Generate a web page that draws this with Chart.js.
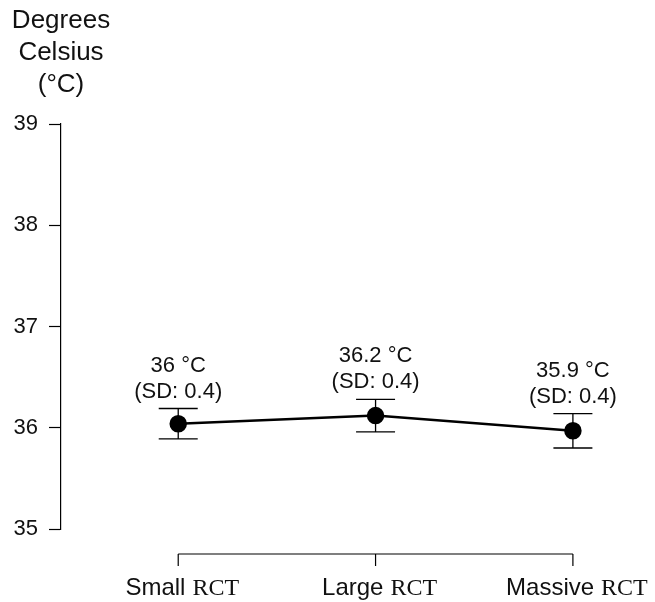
<!DOCTYPE html>
<html><head><meta charset="utf-8">
<script src="https://cdn.jsdelivr.net/npm/chart.js@4/dist/chart.umd.min.js"></script>
<style>html,body{margin:0;padding:0;background:#fff}#wrap{width:655px;height:602px}</style>
</head><body><div id="wrap"><canvas id="c" width="655" height="602"></canvas></div>
<script>
const categories = ["Small", "Large", "Massive"];
const categorySuffix = "RCT";
const meanValues = [36.04, 36.12, 35.97];
const upperValues = [36.19, 36.28, 36.14];
const lowerValues = [35.89, 35.96, 35.80];
const meanLabels = ["36 °C", "36.2 °C", "35.9 °C"];
const sdLabels = ["(SD: 0.4)", "(SD: 0.4)", "(SD: 0.4)"];
const yTicks = [35, 36, 37, 38, 39];
const yTitle = ["Degrees", "Celsius", "(°C)"];

const SANS = '"Liberation Sans", Arial, sans-serif';
const SERIF = '"Liberation Serif", "Times New Roman", serif';

const overlay = {
  id: 'overlay',
  beforeDatasetsDraw(chart) {
    const ctx = chart.ctx, xs = chart.scales.x, ys = chart.scales.y;
    ctx.save();
    ctx.strokeStyle = '#000';
    ctx.lineWidth = 1.3;
    meanValues.forEach((v, i) => {
      const px = xs.getPixelForValue(i + 1);
      const yt = ys.getPixelForValue(upperValues[i]);
      const yb = ys.getPixelForValue(lowerValues[i]);
      ctx.beginPath();
      ctx.moveTo(px, yt); ctx.lineTo(px, yb);
      ctx.moveTo(px - 19.5, yt); ctx.lineTo(px + 19.5, yt);
      ctx.moveTo(px - 19.5, yb); ctx.lineTo(px + 19.5, yb);
      ctx.stroke();
    });
    ctx.restore();
  },
  afterDraw(chart) {
    const ctx = chart.ctx, xs = chart.scales.x, ys = chart.scales.y;
    ctx.save();
    ctx.fillStyle = '#111';
    ctx.textAlign = 'center';
    ctx.textBaseline = 'middle';
    // y title
    ctx.font = '26px ' + SANS;
    const tx = ys.right;
    yTitle.forEach((t, i) => ctx.fillText(t, tx, 21 + i * 32));
    // point labels
    ctx.font = '22px ' + SANS;
    meanValues.forEach((v, i) => {
      const px = xs.getPixelForValue(i + 1);
      const yt = ys.getPixelForValue(upperValues[i]);
      ctx.fillText(meanLabels[i], px, yt - 43);
      ctx.fillText(sdLabels[i], px, yt - 17);
    });
    // x axis
    const ay = chart.chartArea.bottom + 25;
    const x1 = xs.getPixelForValue(1), x3 = xs.getPixelForValue(categories.length);
    ctx.strokeStyle = '#000';
    ctx.lineWidth = 1.2;
    ctx.beginPath();
    ctx.moveTo(x1, ay); ctx.lineTo(x3, ay);
    categories.forEach((c, i) => {
      const px = xs.getPixelForValue(i + 1);
      ctx.moveTo(px, ay); ctx.lineTo(px, ay + 12);
    });
    ctx.stroke();
    ctx.textAlign = 'left';
    ctx.textBaseline = 'alphabetic';
    categories.forEach((c, i) => {
      const px = xs.getPixelForValue(i + 1);
      ctx.font = '24px ' + SANS;
      const w1 = ctx.measureText(c).width;
      ctx.font = '24px ' + SERIF;
      const w2 = ctx.measureText(categorySuffix).width;
      const gap = 7;
      const start = px + 4 - (w1 + gap + w2) / 2;
      ctx.font = '24px ' + SANS;
      ctx.fillText(c, start, ay + 41);
      ctx.font = '24px ' + SERIF;
      ctx.fillText(categorySuffix, start + w1 + gap, ay + 41);
    });
    ctx.restore();
  }
};

new Chart(document.getElementById('c'), {
  type: 'line',
  data: {
    datasets: [{
      data: meanValues.map((v, i) => ({ x: i + 1, y: v })),
      borderColor: '#000',
      borderWidth: 2.5,
      backgroundColor: '#000',
      pointRadius: 7.5,
      pointBackgroundColor: '#000',
      pointBorderColor: '#000',
      tension: 0
    }]
  },
  options: {
    responsive: false,
    animation: false,
    devicePixelRatio: 1,
    layout: { padding: { top: 124, bottom: 73, left: 0, right: 15 } },
    plugins: { legend: { display: false }, tooltip: { enabled: false } },
    scales: {
      x: { type: 'linear', min: 0.406, max: 3.34, display: false },
      y: {
        type: 'linear', min: 35, max: 39,
        afterBuildTicks: s => { s.ticks = yTicks.map(v => ({ value: v })); },
        afterFit: s => { s.width = 61; },
        ticks: { color: '#111', font: { family: SANS, size: 22 }, padding: 11 },
        grid: { drawOnChartArea: false, color: '#000', tickLength: 12, tickWidth: 1.2 },
        border: { display: true, color: '#000', width: 1.2 }
      }
    }
  },
  plugins: [overlay]
});
</script>
</body></html>
